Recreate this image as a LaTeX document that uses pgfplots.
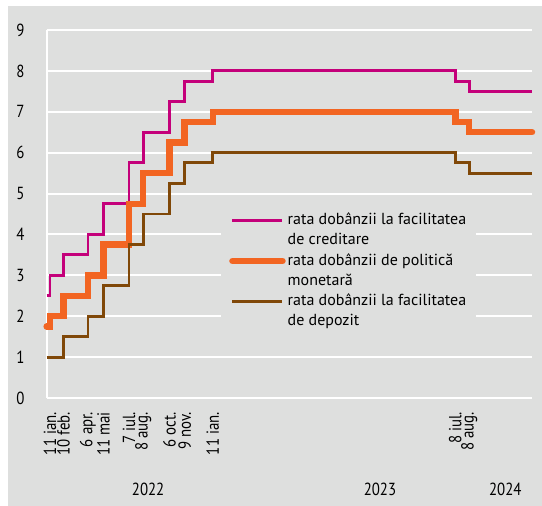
\documentclass[border=0pt]{standalone}
\usepackage{pgfplots}
\pgfplotsset{compat=1.18}
\usepackage{fontspec}
\setmainfont{PT Sans}
\newfontfamily\tickfam[FakeStretch=0.85]{PT Sans}
\newcommand\tickfont{\tickfam\fontsize{17.5}{18}\selectfont}
\newcommand\legfont{\fontsize{16}{20}\selectfont}
\definecolor{chartbg}{RGB}{222,223,222}
\definecolor{wline}{RGB}{255,255,255}
\definecolor{cmag}{RGB}{196,0,122}
\definecolor{corg}{RGB}{242,101,34}
\definecolor{cbrn}{RGB}{128,72,8}
\begin{document}
\begin{tikzpicture}
\useasboundingbox (-46.7pt,-108pt) rectangle (495.3pt,398pt);
\fill[wline] (-46.7pt,-108pt) rectangle (495.3pt,398pt);
\fill[chartbg] (-38.4pt,-108pt) rectangle (495.3pt,392pt);
\begin{axis}[
  at={(0,0)}, anchor=south west,
  scale only axis, width=485.3pt, height=368pt,
  xmin=-7.5, xmax=1081, ymin=0, ymax=9,
  /pgf/number format/assume math mode=true,
  axis lines*=left,
  x axis line style={draw=none},
  y axis line style={draw=wline, line width=2pt, -},
  ytick={0,1,...,9},
  ymajorgrids=true, xmajorgrids=false,
  major grid style={draw=wline, line width=2pt},
  major tick length=0pt,
  yticklabel style={font=\tickfont, anchor=east, inner sep=0pt, xshift=-22pt},
  xtick={0,30,85,120,177,209,268,302,365,909,940},
  xticklabels={11 ian.,10 feb.,6 apr.,11 mai,7 iul.,8 aug.,6 oct.,9 nov.,11 ian.,8 iul.,8 aug.},
  xticklabel style={font=\tickfont, inner sep=0pt, yshift=-14pt, rotate=90, anchor=east},
  clip=false,
  legend cell align=left,
  legend style={at={(rel axis cs:0.3592,0.53)}, anchor=north west, fill=chartbg, draw=none,
    inner xsep=8pt, inner ysep=8pt, row sep=3pt, font=\legfont,
    cells={align=left}, nodes={inner sep=2pt}},
  legend image code/.code={\draw[#1] (0pt,9pt) -- (50pt,9pt);},
]
\addplot[const plot, cmag, line width=2.8pt] coordinates {(-7.5,2.5) (0,3) (30,3.5) (85,4) (120,4.75) (177,5.75) (209,6.5) (268,7.25) (302,7.75) (365,8) (909,7.75) (940,7.5) (1081,7.5)};
\addlegendentry{rata dobânzii la facilitatea\\de creditare}
\addplot[const plot, corg, line width=6.5pt, line cap=round] coordinates {(-7.5,1.75) (0,2) (30,2.5) (85,3) (120,3.75) (177,4.75) (209,5.5) (268,6.25) (302,6.75) (365,7) (909,6.75) (940,6.5) (1081,6.5)};
\addlegendentry{rata dobânzii de politică\\monetară}
\addplot[const plot, cbrn, line width=2.8pt] coordinates {(-7.5,1) (0,1) (30,1.5) (85,2) (120,2.75) (177,3.75) (209,4.5) (268,5.25) (302,5.75) (365,6) (909,5.75) (940,5.5) (1081,5.5)};
\addlegendentry{rata dobânzii la facilitatea\\de depozit}
\node[font=\tickfont, anchor=base] at (axis cs:220,0) [yshift=-98pt] {2022};
\node[font=\tickfont, anchor=base] at (axis cs:740,0) [yshift=-98pt] {2023};
\node[font=\tickfont, anchor=base] at (axis cs:1021,0) [yshift=-98pt] {2024};
\end{axis}
\end{tikzpicture}
\end{document}
